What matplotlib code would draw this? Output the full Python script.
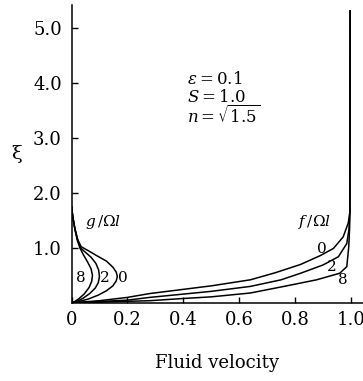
import matplotlib
matplotlib.use('Agg')
import matplotlib.pyplot as plt

plt.rcParams['font.family'] = 'DejaVu Serif'
plt.rcParams['mathtext.fontset'] = 'dejavuserif'

# axial velocity f/Omega l, for parameter values 0, 2, 8
f0_x = [0, 0.1, 0.2, 0.28, 0.39, 0.5, 0.64, 0.73, 0.82, 0.89, 0.937, 0.972, 0.99, 0.996, 0.997]
f0_y = [0, 0.04, 0.10, 0.17, 0.24, 0.31, 0.42, 0.55, 0.70, 0.86, 0.99, 1.2, 1.45, 1.65, 5.31]
f2_x = [0, 0.2, 0.28, 0.4, 0.5, 0.64, 0.75, 0.82, 0.9, 0.955, 0.985, 0.993, 0.996, 0.997]
f2_y = [0, 0.05, 0.10, 0.16, 0.21, 0.30, 0.42, 0.54, 0.69, 0.84, 1.08, 1.35, 1.65, 5.31]
f8_x = [0, 0.28, 0.4, 0.5, 0.64, 0.76, 0.877, 0.96, 0.985, 0.992, 0.995, 0.996, 0.997]
f8_y = [0, 0.04, 0.08, 0.11, 0.18, 0.30, 0.42, 0.54, 0.66, 1.02, 1.35, 1.65, 5.31]

# swirl velocity g/Omega l
g0_x = [0, 0.005, 0.012, 0.022, 0.035, 0.06, 0.09, 0.125, 0.148, 0.16, 0.164, 0.16, 0.148, 0.125, 0.095, 0.06, 0.03, 0]
g0_y = [1.75, 1.55, 1.35, 1.15, 1.02, 0.95, 0.86, 0.76, 0.65, 0.56, 0.48, 0.40, 0.31, 0.22, 0.14, 0.07, 0.03, 0]
g2_x = [0, 0.005, 0.012, 0.022, 0.032, 0.05, 0.07, 0.087, 0.097, 0.10, 0.096, 0.085, 0.065, 0.04, 0.015, 0]
g2_y = [1.75, 1.55, 1.35, 1.15, 1.0, 0.92, 0.83, 0.72, 0.60, 0.48, 0.37, 0.27, 0.17, 0.08, 0.02, 0]
g8_x = [0, 0.005, 0.012, 0.02, 0.03, 0.042, 0.058, 0.07, 0.075, 0.072, 0.063, 0.045, 0.025, 0.01, 0]
g8_y = [1.75, 1.55, 1.35, 1.15, 1.0, 0.88, 0.74, 0.62, 0.50, 0.39, 0.28, 0.16, 0.07, 0.02, 0]

x_ticks = [0, 0.2, 0.4, 0.6, 0.8, 1.0]
x_labels = ['0', '0.2', '0.4', '0.6', '0.8', '1.0']
y_ticks = [1, 2, 3, 4, 5]
y_labels = ['1.0', '2.0', '3.0', '4.0', '5.0']

fig = plt.figure(figsize=(3.63, 3.81), dpi=100)
ax = fig.add_axes([0.197, 0.205, 0.803, 0.782])

for xs, ys in [(f0_x, f0_y), (f2_x, f2_y), (f8_x, f8_y),
               (g0_x, g0_y), (g2_x, g2_y), (g8_x, g8_y)]:
    ax.plot(xs, ys, color='black', lw=1.1, solid_joinstyle='round')

ax.set_xlim(0, 1.043)
ax.set_ylim(0, 5.42)
for side in ['top', 'right']:
    ax.spines[side].set_visible(False)
for side in ['left', 'bottom']:
    ax.spines[side].set_linewidth(1.1)

ax.set_xticks(x_ticks)
ax.set_xticklabels(x_labels)
ax.set_yticks(y_ticks)
ax.set_yticklabels(y_labels)
ax.tick_params(direction='in', length=4, width=1.0, labelsize=13)
ax.tick_params(axis='y', pad=7)
ax.tick_params(axis='x', pad=6)

ax.set_xlabel('Fluid velocity', fontsize=13, labelpad=18)
ax.set_ylabel('ξ', fontsize=14, rotation=0, va='center')
ax.yaxis.set_label_coords(-0.187, 0.5)

ax.text(0.113, 1.47, r'$g\,/\Omega l$', fontsize=11, ha='center', va='center')
ax.text(0.871, 1.48, r'$f\,/\Omega l$', fontsize=11, ha='center', va='center')
for xv, yv, s in [(0.033, 0.46, '8'), (0.12, 0.46, '2'), (0.185, 0.46, '0'),
                  (0.895, 0.98, '0'), (0.931, 0.65, '2'), (0.97, 0.42, '8')]:
    ax.text(xv, yv, s, fontsize=11, ha='center', va='center')

ax.text(0.412, 4.06, r'$\varepsilon = 0.1$', fontsize=12, va='center')
ax.text(0.412, 3.74, r'$S = 1.0$', fontsize=12, va='center')
ax.text(0.412, 3.41, r'$n = \sqrt{1.5}$', fontsize=12, va='center')

fig.savefig('out.png', dpi=100)
